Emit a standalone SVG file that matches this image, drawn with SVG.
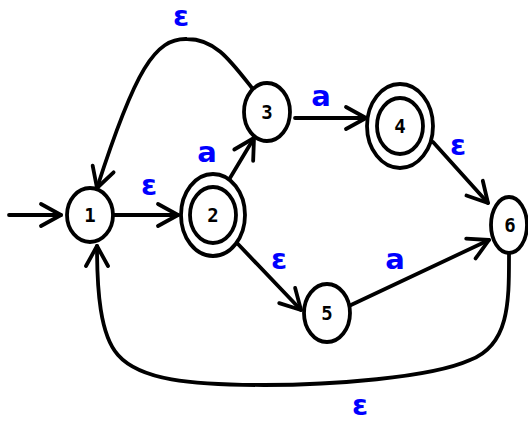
<svg xmlns="http://www.w3.org/2000/svg" width="528" height="421" viewBox="0 0 528 421">
<defs>
<marker id="arr" markerUnits="userSpaceOnUse" markerWidth="30" markerHeight="30" viewBox="-24 -15 28 30" refX="0" refY="0" orient="auto" overflow="visible">
<path d="M-20,-11 L0,0 L-20,11" fill="none" stroke="#000" stroke-width="3.8" stroke-linecap="round" stroke-linejoin="round"/>
</marker>
</defs>
<style>
.n{fill:#fff;stroke:#000;stroke-width:3.8}
.t{font-family:"DejaVu Sans Mono",monospace;font-weight:bold;font-size:19px;text-anchor:middle;fill:#000}
.e{fill:none;stroke:#000;stroke-width:3.8;stroke-linecap:round;marker-end:url(#arr)}
.l{font-family:"DejaVu Sans",sans-serif;font-weight:bold;font-size:29px;text-anchor:middle;fill:#0000ff}
</style>
<g id="edges">
<path class="e" d="M9,215 L61,215"/>
<path class="e" d="M114,215 L178,215"/>
<path class="e" d="M230,178 L254,138"/>
<path class="e" d="M295,118 L366,118"/>
<path class="e" d="M433,142 L488,203"/>
<path class="e" d="M237,243 L301,310"/>
<path class="e" d="M351,305 L489,240"/>
<path class="e" d="M252,88 C230,60 215,39 187,39 C155,38 135,70 97,188"/>
<path class="e" d="M509,254 C509,300 510,345 470,360 C430,378 330,385 264,385 C190,385 140,380 118,355 C100,335 97,290 97,246"/>
</g>
<g id="labels">
<text class="l" x="181" y="26">ε</text>
<text class="l" x="149" y="195">ε</text>
<text class="l" x="207" y="162">a</text>
<text class="l" x="321" y="106">a</text>
<text class="l" x="458" y="155">ε</text>
<text class="l" x="279" y="269">ε</text>
<text class="l" x="395" y="269">a</text>
<text class="l" x="360" y="415">ε</text>
</g>
<g id="node1"><ellipse class="n" cx="90" cy="215" rx="23" ry="27"/><text class="t" x="90" y="222">1</text></g>
<g id="node2"><ellipse class="n" cx="213" cy="215" rx="32" ry="41"/><ellipse class="n" cx="213" cy="215" rx="23" ry="28"/><text class="t" x="213" y="222">2</text></g>
<g id="node3"><ellipse class="n" cx="267" cy="112" rx="23" ry="29"/><text class="t" x="267" y="119">3</text></g>
<g id="node4"><ellipse class="n" cx="400" cy="126" rx="33" ry="42"/><ellipse class="n" cx="400" cy="126" rx="23" ry="28"/><text class="t" x="400" y="133">4</text></g>
<g id="node5"><ellipse class="n" cx="327" cy="313" rx="23" ry="29"/><text class="t" x="327" y="320">5</text></g>
<g id="node6"><ellipse class="n" cx="509" cy="225" rx="18" ry="28"/><text class="t" x="510" y="232">6</text></g>
</svg>
